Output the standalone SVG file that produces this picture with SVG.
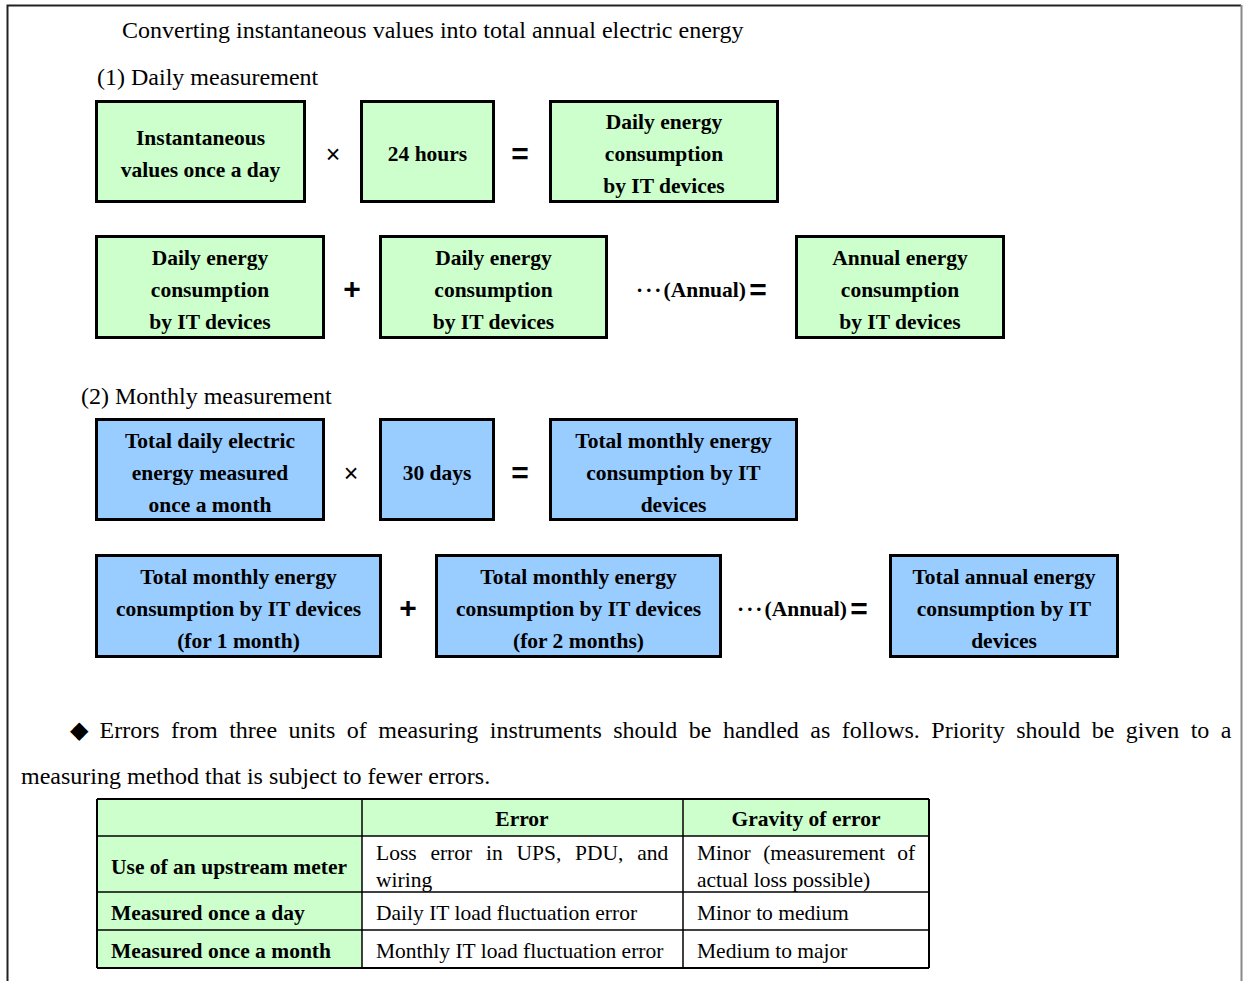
<svg xmlns="http://www.w3.org/2000/svg" width="1243" height="981" viewBox="0 0 1243 981">
<style>
  .t { font-family: "Liberation Serif", "Times New Roman", serif; fill: #000; }
  .h { font-size: 24px; }
  .b { font-size: 21.5px; font-weight: bold; text-anchor: middle; }
  .op { font-family: "Liberation Sans", Arial, sans-serif; font-size: 25px; text-anchor: middle; }
  .opb { font-family: "Liberation Sans", Arial, sans-serif; font-size: 30px; font-weight: bold; text-anchor: middle; }
  .dots { letter-spacing: 2px; }
  .g { fill: #ccffcc; stroke: #000; stroke-width: 3; }
  .u { fill: #99ccff; stroke: #000; stroke-width: 3; }
  .cell { stroke: #000; stroke-width: 1.5; }
  .tb { font-size: 21.5px; font-weight: bold; }
  .tr { font-size: 21.5px; }
</style>

<!-- page frame -->
<path d="M7.5 981 V5.5 H1241" fill="none" stroke="#222" stroke-width="2"/>
<line x1="1241.5" y1="5" x2="1241.5" y2="981" stroke="#888" stroke-width="2"/>

<text class="t h" x="122" y="38">Converting instantaneous values into total annual electric energy</text>
<text class="t h" x="97" y="85">(1) Daily measurement</text>

<!-- (1) daily: row 1 -->
<g id="inst-daily">
  <rect class="g" x="96.5" y="101.5" width="208" height="100"/>
  <text class="t b" x="200.5" y="145">Instantaneous</text>
  <text class="t b" x="200.5" y="177">values once a day</text>
</g>
<g id="hours24">
  <rect class="g" x="361.5" y="101.5" width="132" height="100"/>
  <text class="t b" x="427.5" y="161">24 hours</text>
</g>
<g id="daily-result">
  <rect class="g" x="550.5" y="101.5" width="227" height="100"/>
  <text class="t b" x="664" y="129">Daily energy</text>
  <text class="t b" x="664" y="161">consumption</text>
  <text class="t b" x="664" y="193">by IT devices</text>
</g>

<!-- (1) daily: row 2 -->
<g id="daily-1">
  <rect class="g" x="96.5" y="236.5" width="227" height="101"/>
  <text class="t b" x="210" y="265">Daily energy</text>
  <text class="t b" x="210" y="297">consumption</text>
  <text class="t b" x="210" y="329">by IT devices</text>
</g>
<g id="daily-2">
  <rect class="g" x="380.5" y="236.5" width="226" height="101"/>
  <text class="t b" x="493.5" y="265">Daily energy</text>
  <text class="t b" x="493.5" y="297">consumption</text>
  <text class="t b" x="493.5" y="329">by IT devices</text>
</g>
<g id="annual-daily">
  <rect class="g" x="796.5" y="236.5" width="207" height="101"/>
  <text class="t b" x="900" y="265">Annual energy</text>
  <text class="t b" x="900" y="297">consumption</text>
  <text class="t b" x="900" y="329">by IT devices</text>
</g>

<text class="t h" x="81" y="404">(2) Monthly measurement</text>

<!-- (2) monthly: row 1 -->
<g id="daily-total">
  <rect class="u" x="96.5" y="419.5" width="227" height="100"/>
  <text class="t b" x="210" y="448">Total daily electric</text>
  <text class="t b" x="210" y="480">energy measured</text>
  <text class="t b" x="210" y="512">once a month</text>
</g>
<g id="days30">
  <rect class="u" x="380.5" y="419.5" width="113" height="100"/>
  <text class="t b" x="437" y="480">30 days</text>
</g>
<g id="monthly-result">
  <rect class="u" x="550.5" y="419.5" width="246" height="100"/>
  <text class="t b" x="673.5" y="448">Total monthly energy</text>
  <text class="t b" x="673.5" y="480">consumption by IT</text>
  <text class="t b" x="673.5" y="512">devices</text>
</g>

<!-- (2) monthly: row 2 -->
<g id="month-1">
  <rect class="u" x="96.5" y="555.5" width="284" height="101"/>
  <text class="t b" x="238.5" y="584">Total monthly energy</text>
  <text class="t b" x="238.5" y="616">consumption by IT devices</text>
  <text class="t b" x="238.5" y="648">(for 1 month)</text>
</g>
<g id="month-2">
  <rect class="u" x="436.5" y="555.5" width="284" height="101"/>
  <text class="t b" x="578.5" y="584">Total monthly energy</text>
  <text class="t b" x="578.5" y="616">consumption by IT devices</text>
  <text class="t b" x="578.5" y="648">(for 2 months)</text>
</g>
<g id="annual-monthly">
  <rect class="u" x="890.5" y="555.5" width="227" height="101"/>
  <text class="t b" x="1004" y="584">Total annual energy</text>
  <text class="t b" x="1004" y="616">consumption by IT</text>
  <text class="t b" x="1004" y="648">devices</text>
</g>

<!-- operators between the boxes -->
<g id="connectors">
  <text class="op" x="333" y="163">×</text>
  <text class="opb" x="520" y="164">=</text>
  <text class="opb" x="352" y="299">+</text>
  <text class="t" x="636" y="297" font-size="21.5" font-weight="bold"><tspan class="dots">···</tspan>(Annual)</text>
  <text class="opb" x="758" y="300">=</text>
  <text class="op" x="351" y="482">×</text>
  <text class="opb" x="520" y="483">=</text>
  <text class="opb" x="408" y="618">+</text>
  <text class="t" x="737" y="616" font-size="21.5" font-weight="bold"><tspan class="dots">···</tspan>(Annual)</text>
  <text class="opb" x="859" y="619">=</text>
</g>

<!-- note -->
<text class="t h" x="70" y="738" word-spacing="5.5">◆ Errors from three units of measuring instruments should be handled as follows. Priority should be given to a</text>
<text class="t h" x="21" y="784">measuring method that is subject to fewer errors.</text>

<!-- error table -->
<g id="error-table">
  <rect x="97" y="799" width="832" height="169" fill="#fff"/>
  <rect x="97" y="799" width="832" height="37" fill="#ccffcc"/>
  <rect x="97" y="836" width="265" height="132" fill="#ccffcc"/>
  <g class="cell">
    <line x1="97" y1="799" x2="929" y2="799" stroke-width="2"/>
    <line x1="97" y1="968" x2="929" y2="968" stroke-width="2"/>
    <line x1="97" y1="799" x2="97" y2="968" stroke-width="2"/>
    <line x1="929" y1="799" x2="929" y2="968" stroke-width="2"/>
    <line x1="362" y1="799" x2="362" y2="968"/>
    <line x1="683" y1="799" x2="683" y2="968"/>
    <line x1="97" y1="836" x2="929" y2="836"/>
    <line x1="97" y1="892" x2="929" y2="892"/>
    <line x1="97" y1="930" x2="929" y2="930"/>
  </g>
  <text class="t tb" x="522" y="826" text-anchor="middle">Error</text>
  <text class="t tb" x="806" y="826" text-anchor="middle">Gravity of error</text>
  <text class="t tb" x="111" y="874">Use of an upstream meter</text>
  <text class="t tb" x="111" y="920">Measured once a day</text>
  <text class="t tb" x="111" y="958">Measured once a month</text>
  <text class="t tr" x="376" y="860" word-spacing="8.4">Loss error in UPS, PDU, and</text>
  <text class="t tr" x="376" y="887">wiring</text>
  <text class="t tr" x="697" y="860" word-spacing="7">Minor (measurement of</text>
  <text class="t tr" x="697" y="887">actual loss possible)</text>
  <text class="t tr" x="376" y="920">Daily IT load fluctuation error</text>
  <text class="t tr" x="697" y="920">Minor to medium</text>
  <text class="t tr" x="376" y="958">Monthly IT load fluctuation error</text>
  <text class="t tr" x="697" y="958">Medium to major</text>
</g>
</svg>
